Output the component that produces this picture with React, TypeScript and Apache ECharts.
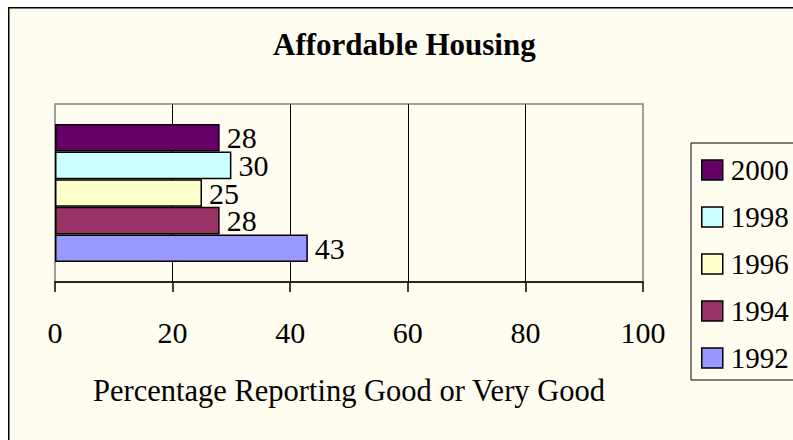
import React, { useEffect, useRef } from "react";
import * as echarts from "echarts";

const titleText = "Affordable Housing";
const axisTitle = "Percentage Reporting Good or Very Good";
const categories = [""];
const seriesNames = ["2000", "1998", "1996", "1994", "1992"];
const seriesValues = [[28], [30], [25], [28], [43]];
const seriesColors = ["#660066", "#CCFFFF", "#FFFFCC", "#993366", "#9999FF"];
const legendOrder = ["2000", "1998", "1996", "1994", "1992"];
const xMin = 0;
const xMax = 100;
const xStep = 20;

const FONT = "'Liberation Serif', 'Times New Roman', serif";

export default function App() {
  const ref = useRef<HTMLDivElement>(null);
  useEffect(() => {
    if (!ref.current) return;
    const chart = echarts.init(ref.current, null, { renderer: "svg" });
    chart.setOption({
      animation: false,
      backgroundColor: "#FFFCF0",
      title: {
        text: titleText,
        left: 265,
        top: 22,
        padding: 0,
        textStyle: { fontFamily: FONT, fontSize: 31, fontWeight: "bold", color: "#000", lineHeight: 31 },
      },
      graphic: [
        {
          type: "rect",
          shape: { x: 0.75, y: 0.75, width: 900, height: 700 },
          style: { fill: "none", stroke: "#000", lineWidth: 1.5 },
          silent: true,
        },
      ],
      legend: {
        data: legendOrder,
        orient: "vertical",
        left: 683,
        top: 136,
        padding: [12, 40, 7, 10],
        itemWidth: 21,
        itemHeight: 20,
        itemGap: 17,
        borderColor: "#000",
        borderWidth: 1,
        backgroundColor: "#FFFCF0",
        icon: "rect",
        itemStyle: { borderColor: "#000", borderWidth: 1.5 },
        textStyle: { fontFamily: FONT, fontSize: 29, color: "#000", lineHeight: 30, padding: [0, 0, 0, 3] },
      },
      grid: {
        left: 47,
        top: 97,
        width: 588,
        height: 178,
        show: true,
        borderColor: "#808080",
        borderWidth: 1.5,
        backgroundColor: "transparent",
        containLabel: false,
      },
      xAxis: {
        type: "value",
        min: xMin,
        max: xMax,
        interval: xStep,
        name: axisTitle,
        nameLocation: "middle",
        nameGap: 94,
        nameTextStyle: { fontFamily: FONT, fontSize: 30.5, color: "#000", lineHeight: 30 },
        axisLine: { show: true, lineStyle: { color: "#000", width: 1.5 } },
        axisTick: { show: true, inside: false, length: 10, lineStyle: { color: "#000", width: 1.5 } },
        axisLabel: { fontFamily: FONT, fontSize: 30, color: "#000", margin: 35, lineHeight: 30 },
        splitLine: { show: true, showMinLine: false, showMaxLine: false, lineStyle: { color: "#000", width: 1 } },
      },
      yAxis: {
        type: "category",
        data: categories,
        axisLine: { show: false },
        axisTick: { show: false },
        axisLabel: { show: false },
        splitLine: { show: false },
      },
      series: seriesNames.map((name, i) => ({
        name,
        type: "bar",
        data: seriesValues[i],
        barGap: "0%",
        barCategoryGap: "22.5%",
        itemStyle: { color: seriesColors[i], borderColor: "#000", borderWidth: 1.5 },
        label: {
          show: true,
          position: "right",
          distance: 7,
          fontFamily: FONT,
          fontSize: 30,
          color: "#000",
          lineHeight: 30,
        },
      })),
    });
    return () => chart.dispose();
  }, []);
  return (
    <div
      ref={ref}
      style={{ position: "fixed", left: 8, top: 7, width: 785, height: 433 }}
    />
  );
}
